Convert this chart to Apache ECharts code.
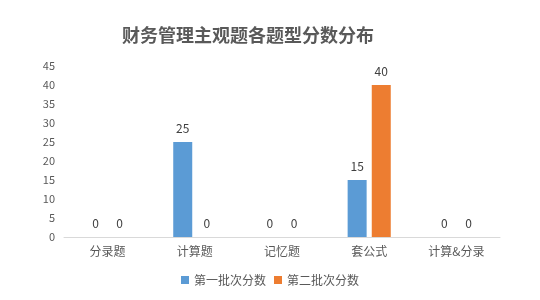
<!DOCTYPE html>
<html><head><meta charset="utf-8">
<script src="https://cdn.jsdelivr.net/npm/echarts@6/dist/echarts.min.js"></script>
<style>html,body{margin:0;padding:0;background:#fff}#c{width:540px;height:300px}</style>
</head><body><div id="c"></div>
<script>
const categories = ['分录题','计算题','记忆题','套公式','计算&分录'];
const series1 = [0,25,0,15,0];
const series2 = [0,0,0,40,0];
const seriesNames = ['第一批次分数','第二批次分数'];
const font = '"Noto Sans CJK SC", sans-serif';
const chart = echarts.init(document.getElementById('c'));
chart.setOption({
  animation:false,
  title:{text:'财务管理主观题各题型分数分布',left:243,top:21,textAlign:'center',
    textStyle:{fontFamily:font,fontSize:18,fontWeight:'bold',color:'#595959'}},
  legend:{bottom:9,left:'center',itemWidth:8,itemHeight:8,itemGap:8,icon:'rect',
    textStyle:{fontFamily:font,fontSize:12,color:'#595959'},data:seriesNames},
  grid:{left:64,right:40,top:66,bottom:63},
  xAxis:{type:'category',data:categories,
    axisLine:{lineStyle:{color:'#d9d9d9'}},axisTick:{show:false},
    axisLabel:{fontFamily:font,fontSize:12,color:'#595959',margin:8}},
  yAxis:{type:'value',min:0,max:45,interval:5,
    splitLine:{show:false},axisLine:{show:false},axisTick:{show:false},
    axisLabel:{fontFamily:font,fontSize:11,color:'#595959',margin:9}},
  series:[
    {name:seriesNames[0],type:'bar',data:series1,barWidth:19,barGap:'27%',
     itemStyle:{color:'#5b9bd5'},
     label:{show:true,position:'top',distance:8,fontFamily:font,fontSize:12,color:'#404040'}},
    {name:seriesNames[1],type:'bar',data:series2,barWidth:19,
     itemStyle:{color:'#ed7d31'},
     label:{show:true,position:'top',distance:8,fontFamily:font,fontSize:12,color:'#404040'}}
  ]
});
</script></body></html>
